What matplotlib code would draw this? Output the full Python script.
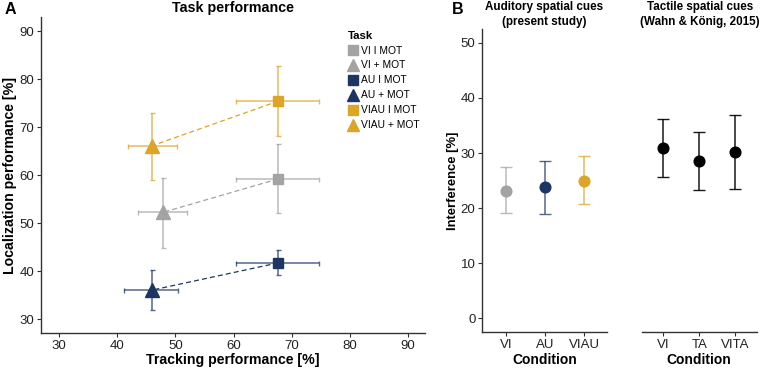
import matplotlib
matplotlib.use("Agg")
import matplotlib.pyplot as plt
from matplotlib.lines import Line2D

plt.rcParams['font.family'] = ['Liberation Sans', 'DejaVu Sans']

# ---- panel A data: task performance ----
tasks = ["VI I MOT", "VI + MOT", "AU I MOT", "AU + MOT", "VIAU I MOT", "VIAU + MOT"]
track = [67.7, 47.8, 67.7, 45.9, 67.7, 46.0]
track_lo = [60.4, 43.6, 60.4, 41.2, 60.4, 41.8]
track_hi = [74.7, 52.0, 74.7, 50.5, 74.7, 50.3]
loc = [59.2, 52.2, 41.7, 36.0, 75.4, 66.1]
loc_lo = [52.1, 44.7, 39.1, 31.8, 68.2, 58.9]
loc_hi = [66.5, 59.3, 44.4, 40.2, 82.7, 73.0]
task_markers = ["s", "^", "s", "^", "s", "^"]

# ---- panel B data: interference ----
aud_cond = ["VI", "AU", "VIAU"]
aud_val = [23.2, 23.8, 25.0]
aud_lo = [19.1, 19.0, 20.8]
aud_hi = [27.4, 28.6, 29.4]
tac_cond = ["VI", "TA", "VITA"]
tac_val = [30.9, 28.6, 30.2]
tac_lo = [25.7, 23.3, 23.4]
tac_hi = [36.2, 33.8, 36.9]

gray = "#A3A3A3"
navy = "#1D3564"
gold = "#DCA526"
task_colors = [gray, gray, navy, navy, gold, gold]
aud_colors = [gray, navy, gold]
spine_col = "#333333"

fig = plt.figure(figsize=(7.67, 3.72), dpi=100)
ax1 = fig.add_axes([0.0535, 0.105, 0.5005, 0.849])
ax2 = fig.add_axes([0.629, 0.107, 0.163, 0.815])
ax3 = fig.add_axes([0.8366, 0.107, 0.150, 0.815])

def style(ax):
    for s in ["top", "right"]:
        ax.spines[s].set_visible(False)
    for s in ["left", "bottom"]:
        ax.spines[s].set_color(spine_col)
        ax.spines[s].set_linewidth(1.0)
    ax.tick_params(axis="both", direction="out", length=3, width=0.8,
                   color=spine_col, labelsize=9.5, labelcolor="#222222", pad=2)

# panel A
style(ax1)
for i in range(0, 6, 2):
    ax1.plot([track[i], track[i + 1]], [loc[i], loc[i + 1]], ls=(0, (4, 2.5)),
             lw=0.9, color=task_colors[i], zorder=2)
for i in range(6):
    ax1.errorbar(track[i], loc[i],
                 xerr=[[track[i] - track_lo[i]], [track_hi[i] - track[i]]],
                 yerr=[[loc[i] - loc_lo[i]], [loc_hi[i] - loc[i]]],
                 fmt="none", ecolor=task_colors[i], alpha=0.75, elinewidth=1.1,
                 capsize=1.8, capthick=1.0, zorder=1)
    ms = 7.8 if task_markers[i] == "s" else 9.5
    ax1.plot(track[i], loc[i], marker=task_markers[i], ms=ms, color=task_colors[i],
             ls="none", zorder=3)
ax1.set_xlim(26.9, 92.9)
ax1.set_ylim(27.1, 92.9)
ax1.set_xticks([30, 40, 50, 60, 70, 80, 90])
ax1.set_yticks([30, 40, 50, 60, 70, 80, 90])
ax1.set_xlabel("Tracking performance [%]", fontsize=10.2, fontweight="bold", labelpad=1)
ax1.set_ylabel("Localization performance [%]", fontsize=10.2, fontweight="bold")
ax1.yaxis.set_label_coords(-0.062, 0.5)

handles = [Line2D([], [], marker=task_markers[i], ls="none", color=task_colors[i],
                  ms=7 if task_markers[i] == "s" else 8.5) for i in range(6)]
leg = ax1.legend(handles, tasks, title="Task", loc="upper left",
                 bbox_to_anchor=(0.78, 0.98), frameon=False, fontsize=7.4,
                 handlelength=1.0, handletextpad=0.3, labelspacing=0.48,
                 borderpad=0.2)
leg.get_title().set_fontweight("bold")
leg.get_title().set_fontsize(8.2)
leg._legend_box.align = "left"

# panel B
for ax, cond, val, lo, hi, cols in [
        (ax2, aud_cond, aud_val, aud_lo, aud_hi, aud_colors),
        (ax3, tac_cond, tac_val, tac_lo, tac_hi, ["black"] * 3)]:
    style(ax)
    xs = list(range(1, len(cond) + 1))
    for j in range(len(cond)):
        ax.errorbar(xs[j], val[j], yerr=[[val[j] - lo[j]], [hi[j] - val[j]]],
                    fmt="none", ecolor=cols[j], alpha=0.75 if ax is ax2 else 0.9,
                    elinewidth=1.1, capsize=4.3, capthick=1.0, zorder=1)
        ax.plot(xs[j], val[j], "o", ms=7.7, color=cols[j], zorder=3)
    ax.set_xlim(0.4, len(cond) + 0.6)
    ax.set_ylim(-2.5, 52.5)
    ax.set_xticks(xs)
    ax.set_xticklabels(cond)
    ax.set_xlabel("Condition", fontsize=10, fontweight="bold", labelpad=1)

ax2.set_yticks([0, 10, 20, 30, 40, 50])
ax2.set_ylabel("Interference [%]", fontsize=9.4, fontweight="bold")
ax2.yaxis.set_label_coords(-0.19, 0.5)
ax3.spines["left"].set_visible(False)
ax3.tick_params(axis="y", left=False, labelleft=False)

# titles and panel letters
fig.text(233 / 767, 1 - 8 / 372, "Task performance", fontsize=10.3,
         fontweight="bold", ha="center", va="center")
fig.text(544 / 767, 1 - 1 / 372, "Auditory spatial cues\n(present study)",
         fontsize=8.4, fontweight="bold", ha="center", va="top", linespacing=1.35)
fig.text(700 / 767, 1 - 1 / 372, "Tactile spatial cues\n(Wahn & König, 2015)",
         fontsize=8.4, fontweight="bold", ha="center", va="top", linespacing=1.35)
fig.text(5 / 767, 1 - 9 / 372, "A", fontsize=11.5, fontweight="bold", va="center")
fig.text(452 / 767, 1 - 9 / 372, "B", fontsize=11.5, fontweight="bold", va="center")

fig.savefig("out.png", dpi=100)
